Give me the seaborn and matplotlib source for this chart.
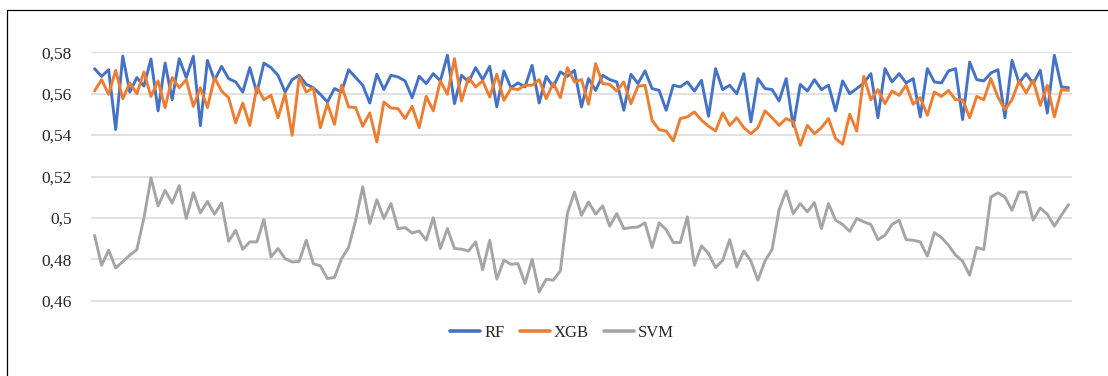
import matplotlib
matplotlib.use("Agg")
import matplotlib.pyplot as plt
from matplotlib.lines import Line2D
import numpy as np
import pandas as pd
import seaborn as sns

# Per-run scores of the three models
rf = [
    0.5721, 0.5684, 0.5716, 0.5427, 0.5782, 0.5608, 0.5678, 0.5637, 0.5768, 0.5517, 0.5748, 0.5571,
    0.5769, 0.5678, 0.5781, 0.5446, 0.5761, 0.5665, 0.5732, 0.5673, 0.5657, 0.5608, 0.5726,
    0.5604, 0.5748, 0.5726, 0.5689, 0.5608, 0.5668, 0.5689, 0.5645, 0.5629, 0.5597, 0.5560, 0.5625,
    0.5608, 0.5716, 0.5678, 0.5641, 0.5555, 0.5694, 0.5620, 0.5689, 0.5681, 0.5662, 0.5581,
    0.5684, 0.5649, 0.5697, 0.5662, 0.5786, 0.5552, 0.5689, 0.5657, 0.5726, 0.5668, 0.5732, 0.5536,
    0.5710, 0.5629, 0.5652, 0.5633, 0.5737, 0.5555, 0.5684, 0.5633, 0.5705, 0.5684, 0.5713,
    0.5536, 0.5673, 0.5616, 0.5689, 0.5668, 0.5657, 0.5520, 0.5694, 0.5649, 0.5710, 0.5625, 0.5616,
    0.5520, 0.5641, 0.5633, 0.5657, 0.5613, 0.5665, 0.5491, 0.5721, 0.5620, 0.5641, 0.5600,
    0.5697, 0.5464, 0.5673, 0.5625, 0.5620, 0.5565, 0.5673, 0.5443, 0.5645, 0.5613, 0.5668, 0.5620,
    0.5641, 0.5517, 0.5662, 0.5600, 0.5625, 0.5652, 0.5697, 0.5484, 0.5721, 0.5657, 0.5697,
    0.5652, 0.5673, 0.5488, 0.5721, 0.5657, 0.5652, 0.5710, 0.5721, 0.5475, 0.5753, 0.5668, 0.5662,
    0.5700, 0.5716, 0.5484, 0.5761, 0.5652, 0.5697, 0.5649, 0.5713, 0.5507, 0.5786, 0.5633, 0.5629,
]

xgb = [
    0.5613, 0.5668, 0.5597, 0.5713, 0.5576, 0.5652, 0.5600, 0.5705, 0.5587, 0.5662, 0.5533, 0.5678,
    0.5629, 0.5668, 0.5539, 0.5629, 0.5533, 0.5678, 0.5613, 0.5581, 0.5459, 0.5555, 0.5447,
    0.5633, 0.5571, 0.5592, 0.5484, 0.5600, 0.5399, 0.5681, 0.5608, 0.5629, 0.5436, 0.5552, 0.5452,
    0.5641, 0.5536, 0.5533, 0.5443, 0.5507, 0.5367, 0.5560, 0.5531, 0.5528, 0.5480, 0.5539,
    0.5436, 0.5587, 0.5517, 0.5662, 0.5597, 0.5769, 0.5565, 0.5678, 0.5633, 0.5662, 0.5584, 0.5694,
    0.5568, 0.5625, 0.5620, 0.5641, 0.5641, 0.5668, 0.5576, 0.5652, 0.5581, 0.5726, 0.5657,
    0.5668, 0.5549, 0.5745, 0.5649, 0.5645, 0.5613, 0.5657, 0.5552, 0.5636, 0.5641, 0.5472, 0.5426,
    0.5420, 0.5372, 0.5480, 0.5488, 0.5512, 0.5472, 0.5443, 0.5420, 0.5507, 0.5447, 0.5484,
    0.5436, 0.5407, 0.5436, 0.5517, 0.5484, 0.5447, 0.5480, 0.5464, 0.5351, 0.5447, 0.5407, 0.5436,
    0.5480, 0.5383, 0.5356, 0.5501, 0.5420, 0.5684, 0.5571, 0.5620, 0.5552, 0.5613, 0.5592,
    0.5641, 0.5549, 0.5581, 0.5496, 0.5608, 0.5587, 0.5616, 0.5571, 0.5571, 0.5484, 0.5587, 0.5571,
    0.5673, 0.5584, 0.5523, 0.5571, 0.5662, 0.5604, 0.5665, 0.5544, 0.5641, 0.5488, 0.5620, 0.5616,
]

svm = [
    0.4916, 0.4771, 0.4844, 0.4758, 0.4789, 0.4820, 0.4847, 0.5000, 0.5193, 0.5058, 0.5133, 0.5072,
    0.5156, 0.4997, 0.5122, 0.5024, 0.5079, 0.5018, 0.5072, 0.4887, 0.4940, 0.4848, 0.4884,
    0.4884, 0.4992, 0.4811, 0.4852, 0.4803, 0.4787, 0.4790, 0.4892, 0.4779, 0.4768, 0.4707, 0.4712,
    0.4803, 0.4857, 0.4989, 0.5150, 0.4973, 0.5088, 0.4997, 0.5069, 0.4948, 0.4953, 0.4927,
    0.4937, 0.4892, 0.5001, 0.4852, 0.4948, 0.4852, 0.4849, 0.4840, 0.4884, 0.4750, 0.4892, 0.4704,
    0.4795, 0.4776, 0.4779, 0.4683, 0.4800, 0.4642, 0.4704, 0.4699, 0.4744, 0.5021, 0.5125,
    0.5013, 0.5077, 0.5018, 0.5058, 0.4960, 0.5021, 0.4948, 0.4953, 0.4956, 0.4976, 0.4857, 0.4976,
    0.4943, 0.4881, 0.4881, 0.5005, 0.4771, 0.4865, 0.4828, 0.4760, 0.4795, 0.4895, 0.4763,
    0.4840, 0.4792, 0.4699, 0.4792, 0.4847, 0.5040, 0.5130, 0.5021, 0.5069, 0.5029, 0.5074, 0.4948,
    0.5069, 0.4989, 0.4968, 0.4935, 0.4997, 0.4981, 0.4968, 0.4895, 0.4916, 0.4968, 0.4989,
    0.4895, 0.4892, 0.4884, 0.4815, 0.4929, 0.4905, 0.4868, 0.4820, 0.4791, 0.4723, 0.4857, 0.4847,
    0.5101, 0.5121, 0.5101, 0.5037, 0.5125, 0.5124, 0.4989, 0.5048, 0.5018, 0.4960, 0.5013, 0.5064,
]

models = ["RF", "XGB", "SVM"]
colors = ["#4472C4", "#ED7D31", "#A5A5A5"]
y_ticks = [0.46, 0.48, 0.50, 0.52, 0.54, 0.56, 0.58]
y_tick_labels = ["0,46", "0,48", "0,5", "0,52", "0,54", "0,56", "0,58"]

frames = []
for name, vals in zip(models, [rf, xgb, svm]):
    frames.append(pd.DataFrame({"run": np.arange(len(vals)), "score": vals, "model": name}))
df = pd.concat(frames, ignore_index=True)

sns.set_style("white")
plt.rcParams["font.family"] = ["Liberation Serif", "DejaVu Serif"]

W, H = 1108, 376
fig = plt.figure(figsize=(W / 100, H / 100), dpi=100)
ax = fig.add_axes([91 / W, 1 - 301.5 / H, (1072 - 91) / W, (301.5 - 51.5) / H])

sns.lineplot(data=df, x="run", y="score", hue="model", hue_order=models,
             palette=colors, linewidth=2.1, ax=ax, legend=False)

n = len(rf)
ax.set_xlim(-0.5, n - 0.5)
ax.set_ylim(0.4596, 0.5804)
ax.set_yticks(y_ticks)
ax.set_yticklabels(y_tick_labels, fontsize=12.5, color="#262626")
ax.set_xticks([])
ax.set_xlabel("")
ax.set_ylabel("")
ax.tick_params(axis="y", length=0, pad=14)
ax.yaxis.grid(True, color="#D9D9D9", linewidth=1.1)
ax.set_axisbelow(True)
for s in ax.spines.values():
    s.set_visible(False)

handles = [Line2D([], [], color=c, linewidth=2.6) for c in colors]
fig.legend(handles, models, loc="center", bbox_to_anchor=(562 / W, 1 - 333 / H),
           ncol=3, frameon=False, fontsize=12, handlelength=1.8,
           handletextpad=0.25, columnspacing=0.9)

# outer chart border (left and top edges)
fig.add_artist(Line2D([7 / W, 7 / W], [0, 1 - 10 / H], transform=fig.transFigure,
                      color="black", linewidth=0.9))
fig.add_artist(Line2D([7 / W, 1], [1 - 10 / H, 1 - 10 / H], transform=fig.transFigure,
                      color="black", linewidth=0.9))

fig.savefig("out.png", dpi=100)
